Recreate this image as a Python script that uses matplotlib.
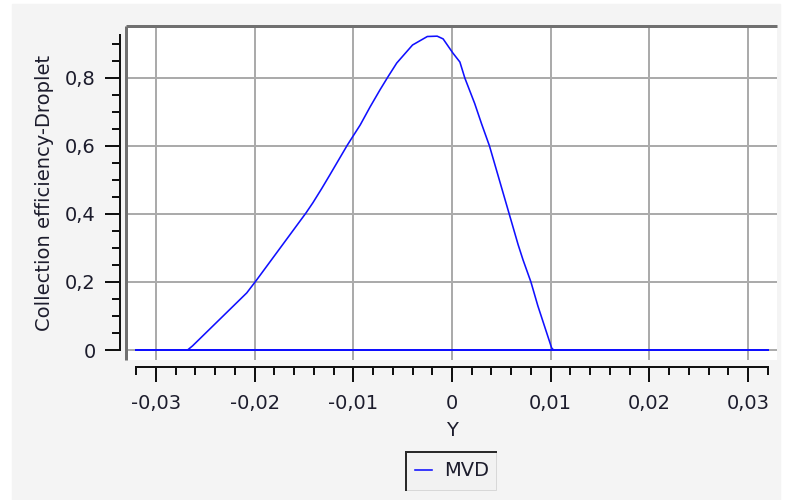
import numpy as np
import matplotlib
matplotlib.use("Agg")
import matplotlib.pyplot as plt
from matplotlib.patches import Rectangle
from matplotlib.lines import Line2D
from matplotlib.ticker import FixedLocator, FuncFormatter

W, H = 786, 500

# Collection efficiency along the surface coordinate Y
y_pos = [-0.0320, -0.0268, -0.0263, -0.0208, -0.0198, -0.0148, -0.0141, -0.0132,
         -0.0124, -0.0106, -0.0093, -0.0083, -0.0073, -0.0065, -0.0056, -0.0040,
         -0.0025, -0.0015, -0.0009, 0.0001, 0.0008, 0.0013, 0.0023, 0.0030,
         0.0038, 0.0046, 0.0051, 0.0058, 0.0067, 0.0072, 0.0080, 0.0087,
         0.0094, 0.0101, 0.0103, 0.0320]
efficiency = [0.0, 0.0, 0.012, 0.168, 0.206, 0.403, 0.433, 0.475,
              0.514, 0.603, 0.662, 0.715, 0.765, 0.803, 0.844, 0.897,
              0.922, 0.923, 0.915, 0.873, 0.847, 0.800, 0.725, 0.665,
              0.600, 0.520, 0.470, 0.400, 0.310, 0.265, 0.200, 0.130,
              0.068, 0.006, 0.0, 0.0]
series_name = "MVD"

x_label = "Y"
y_label = "Collection efficiency-Droplet"

BLUE = "#1010ff"
TXT = "#1c1c2c"
PX = 72 / 100  # points per pixel at dpi 100


def fx(x):
    return x / W


def fy(y):
    return 1 - y / H


def comma(v, _pos=None):
    v = round(v, 6)
    if v == 0:
        return "0"
    return f"{v:g}".replace(".", ",")


fig = plt.figure(figsize=(W / 100, H / 100), dpi=100, facecolor="white")
fig.patches.append(Rectangle((fx(12), 0), fx(780) - fx(12), fy(4),
                             transform=fig.transFigure, color="#f4f4f4", zorder=-10))

ax = fig.add_axes([fx(126), fy(360), fx(777) - fx(126), fy(26) - fy(360)])
ax.set_facecolor("white")
ax.set_xlim(-0.03304, 0.03294)
ax.set_ylim(-0.0294, 0.9529)

# baseline (zero efficiency) and the curve itself
ax.plot([y_pos[0], y_pos[-1]], [0, 0], color=BLUE, lw=2 * PX, zorder=3)
ax.plot(y_pos, efficiency, color=BLUE, lw=1.6 * PX, zorder=3, label=series_name)

ax.xaxis.set_major_locator(FixedLocator(np.arange(-0.03, 0.031, 0.01)))
ax.xaxis.set_minor_locator(FixedLocator(np.arange(-0.032, 0.0321, 0.002)))
ax.yaxis.set_major_locator(FixedLocator(np.arange(0, 0.81, 0.2)))
ax.yaxis.set_minor_locator(FixedLocator(np.arange(0, 0.91, 0.05)))
ax.xaxis.set_major_formatter(FuncFormatter(comma))
ax.yaxis.set_major_formatter(FuncFormatter(comma))

ax.grid(True, which="major", color="#ababab", lw=2 * PX, zorder=1)
ax.set_axisbelow(True)

for side in ("top", "right"):
    ax.spines[side].set_visible(False)
ax.spines["left"].set_position(("outward", 6 * PX))
ax.spines["bottom"].set_position(("outward", 7 * PX))
ax.spines["left"].set_bounds(0, 0.926)
ax.spines["bottom"].set_bounds(-0.032, 0.032)
for side in ("left", "bottom"):
    ax.spines[side].set_linewidth(2 * PX)
    ax.spines[side].set_color("#111111")

ax.tick_params(which="major", direction="out", length=15 * PX, width=2 * PX,
               color="#111111", labelsize=14, labelcolor=TXT)
ax.tick_params(which="minor", direction="out", length=8 * PX, width=2 * PX,
               color="#111111")
ax.tick_params(axis="y", which="major", pad=9 * PX)
ax.tick_params(axis="x", which="major", pad=12 * PX)

# sunken frame on top and left of the plot area
ax.plot([0, 1], [1, 1], transform=ax.transAxes, color="#707070", lw=3 * PX,
        clip_on=False, zorder=5, solid_capstyle="butt")
ax.plot([0, 0], [0, 1], transform=ax.transAxes, color="#707070", lw=3 * PX,
        clip_on=False, zorder=5, solid_capstyle="butt")

fig.text(fx(45), fy(193), y_label, rotation=90, ha="center", va="center",
         fontsize=14, color=TXT)
fig.text(fx(452), fy(430), x_label, ha="center", va="center",
         fontsize=14, color=TXT)

# legend box with a sunken border
lx0, ly0, lx1, ly1 = 406, 452, 496, 490
fig.patches.append(Rectangle((fx(lx0), fy(ly1)), fx(lx1) - fx(lx0), fy(ly0) - fy(ly1),
                             transform=fig.transFigure, facecolor="#f2f2f2",
                             edgecolor="#d8d8d8", lw=1 * PX, zorder=1))
fig.lines.append(Line2D([fx(lx0), fx(lx1)], [fy(ly0), fy(ly0)], transform=fig.transFigure,
                        color="#2a2a2a", lw=2 * PX))
fig.lines.append(Line2D([fx(lx0), fx(lx0)], [fy(ly0), fy(ly1)], transform=fig.transFigure,
                        color="#2a2a2a", lw=2 * PX))
fig.legend(loc="center", bbox_to_anchor=(fx(452), fy(471)), frameon=False,
           fontsize=14, handlelength=0.9, handletextpad=0.6, labelcolor=TXT)

fig.savefig("out.png", dpi=100)
